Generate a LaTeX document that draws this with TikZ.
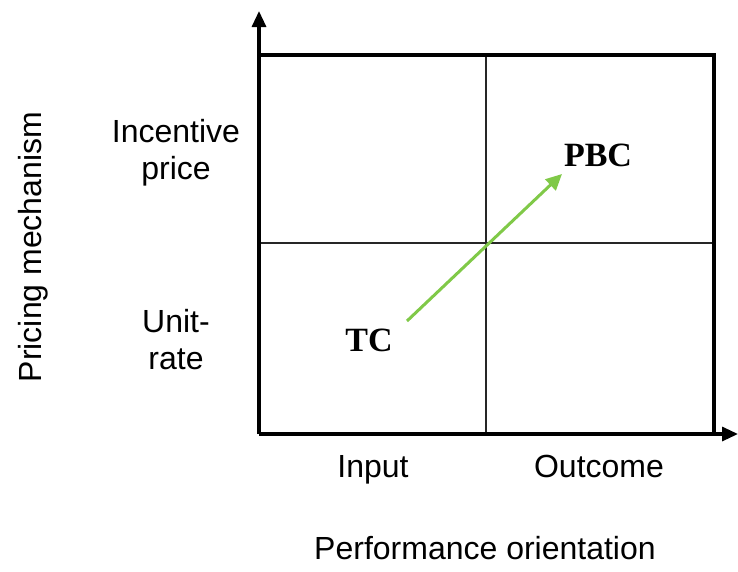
\documentclass[tikz,border=0pt]{standalone}
\usepackage{fontspec}
\setmainfont{Liberation Sans}
\newfontfamily\timesbf{Liberation Serif}
\usetikzlibrary{arrows.meta}
\definecolor{arrowgreen}{RGB}{128,201,72}
\tikzset{
  axisline/.style={line width=3.2pt, -{Triangle[length=16pt,width=14pt]}},
  frameline/.style={line width=3.2pt},
  midline/.style={line width=1.8pt, draw=black!85},
  lab/.style={font=\fontsize{32}{37}\selectfont, inner sep=0pt, align=center},
  tagtext/.style={font=\fontsize{34}{40}\selectfont\timesbf\bfseries, inner sep=0pt},
}
\begin{document}
\begin{tikzpicture}[x=1pt,y=-1pt]
\useasboundingbox (0,0) rectangle (738,571);
\coordinate (O) at (259,434);
\coordinate (ytip) at (259,11);
\coordinate (xtip) at (738,434);
\coordinate (TL) at (259,55);
\coordinate (TR) at (714,55);
\coordinate (BR) at (714,434);
\coordinate (mt) at (486,55);
\coordinate (mb) at (486,434);
\coordinate (ml) at (259,243);
\coordinate (mr) at (714,243);
\draw[midline] (mt) -- (mb);
\draw[midline] (ml) -- (mr);
\draw[frameline] (TL) -- (TR) -- (BR);
\draw[axisline] (O) -- (ytip);
\draw[axisline] (O) -- (xtip);
\node[lab] (inc) at (176,153) {Incentive\\price};
\node[lab] (unit) at (176,340) {Unit-\\rate};
\node[lab, anchor=base] (inp) at (373,477) {Input};
\node[lab, anchor=base] (out) at (599,477) {Outcome};
\node[lab, anchor=base] (perf) at (485,559) {Performance orientation};
\node[lab, anchor=base, rotate=90] (pric) at (41,247) {Pricing mechanism};
\node[tagtext, anchor=base] (tc) at (369,351) {TC};
\node[tagtext, anchor=base] (pbc) at (598,166) {PBC};
\coordinate (as) at (407,321);
\coordinate (ae) at (562,174);
\draw[line width=3pt, arrowgreen, -{Triangle[length=16pt,width=15pt]}] (as) -- (ae);
\end{tikzpicture}
\end{document}
